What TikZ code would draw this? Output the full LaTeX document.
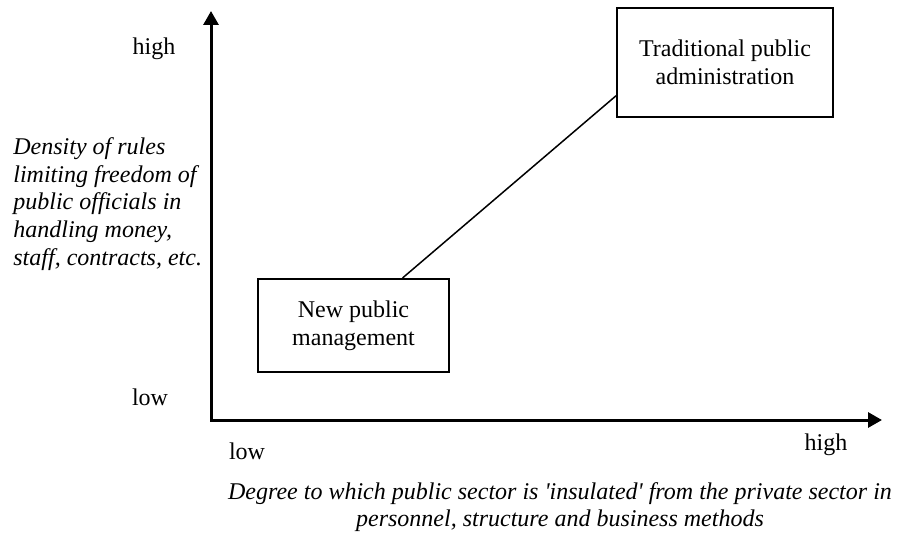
\documentclass[tikz,border=0pt]{standalone}
\usepackage{fontspec}
\setmainfont{Liberation Serif}
\usetikzlibrary{arrows.meta,positioning,calc}

\tikzset{
  axis/.style={line width=1.5pt,line join=miter,{Triangle[width=7.5pt,length=7pt]}-{Triangle[width=7.5pt,length=7pt]}},
  modelbox/.style={draw,line width=1pt,align=center,inner sep=0pt},
  tick/.style={inner sep=0pt},
  axislabel/.style={inner sep=0pt,font=\itshape\fontsize{12}{13.8}\selectfont}
}

\begin{document}
\begin{tikzpicture}[x=0.5pt,y=-0.5pt,font=\fontsize{12}{13.8}\selectfont]
\useasboundingbox (0,0) rectangle (903,535);
\coordinate (origin) at (211,420);
\coordinate (ytip) at (211,11);
\coordinate (xtip) at (882,420);
\draw [axis] (ytip) -- (origin) -- (xtip);
\node[tick] at (154,49) (yhigh) {high};
\node[tick] at (150,397) (ylow) {low};
\node[tick] at (247,451) (xlow) {low};
\node[tick] at (826,445) (xhigh) {high};
\node[axislabel,anchor=west,align=left] at (13,204) (ylabel) {Density of rules\\limiting freedom of\\public officials in\\handling money,\\staff, contracts, etc.};
\node[axislabel,align=center] at (560,507) (xlabel) {Degree to which public sector is \textquotesingle insulated\textquotesingle{} from the private sector in\\personnel, structure and business methods};
\node[modelbox,minimum width=95.5pt,minimum height=46.5pt] at (353.5,325.5) (npm) {New public\\management};
\node[modelbox,minimum width=108pt,minimum height=54.5pt] at (725,62.5) (tpa) {Traditional public\\administration};
\draw [line width=0.75pt] ($(npm.north west)!0.754!(npm.north east)$) -- ($(tpa.north west)!0.8!(tpa.south west)$);
\end{tikzpicture}
\end{document}
